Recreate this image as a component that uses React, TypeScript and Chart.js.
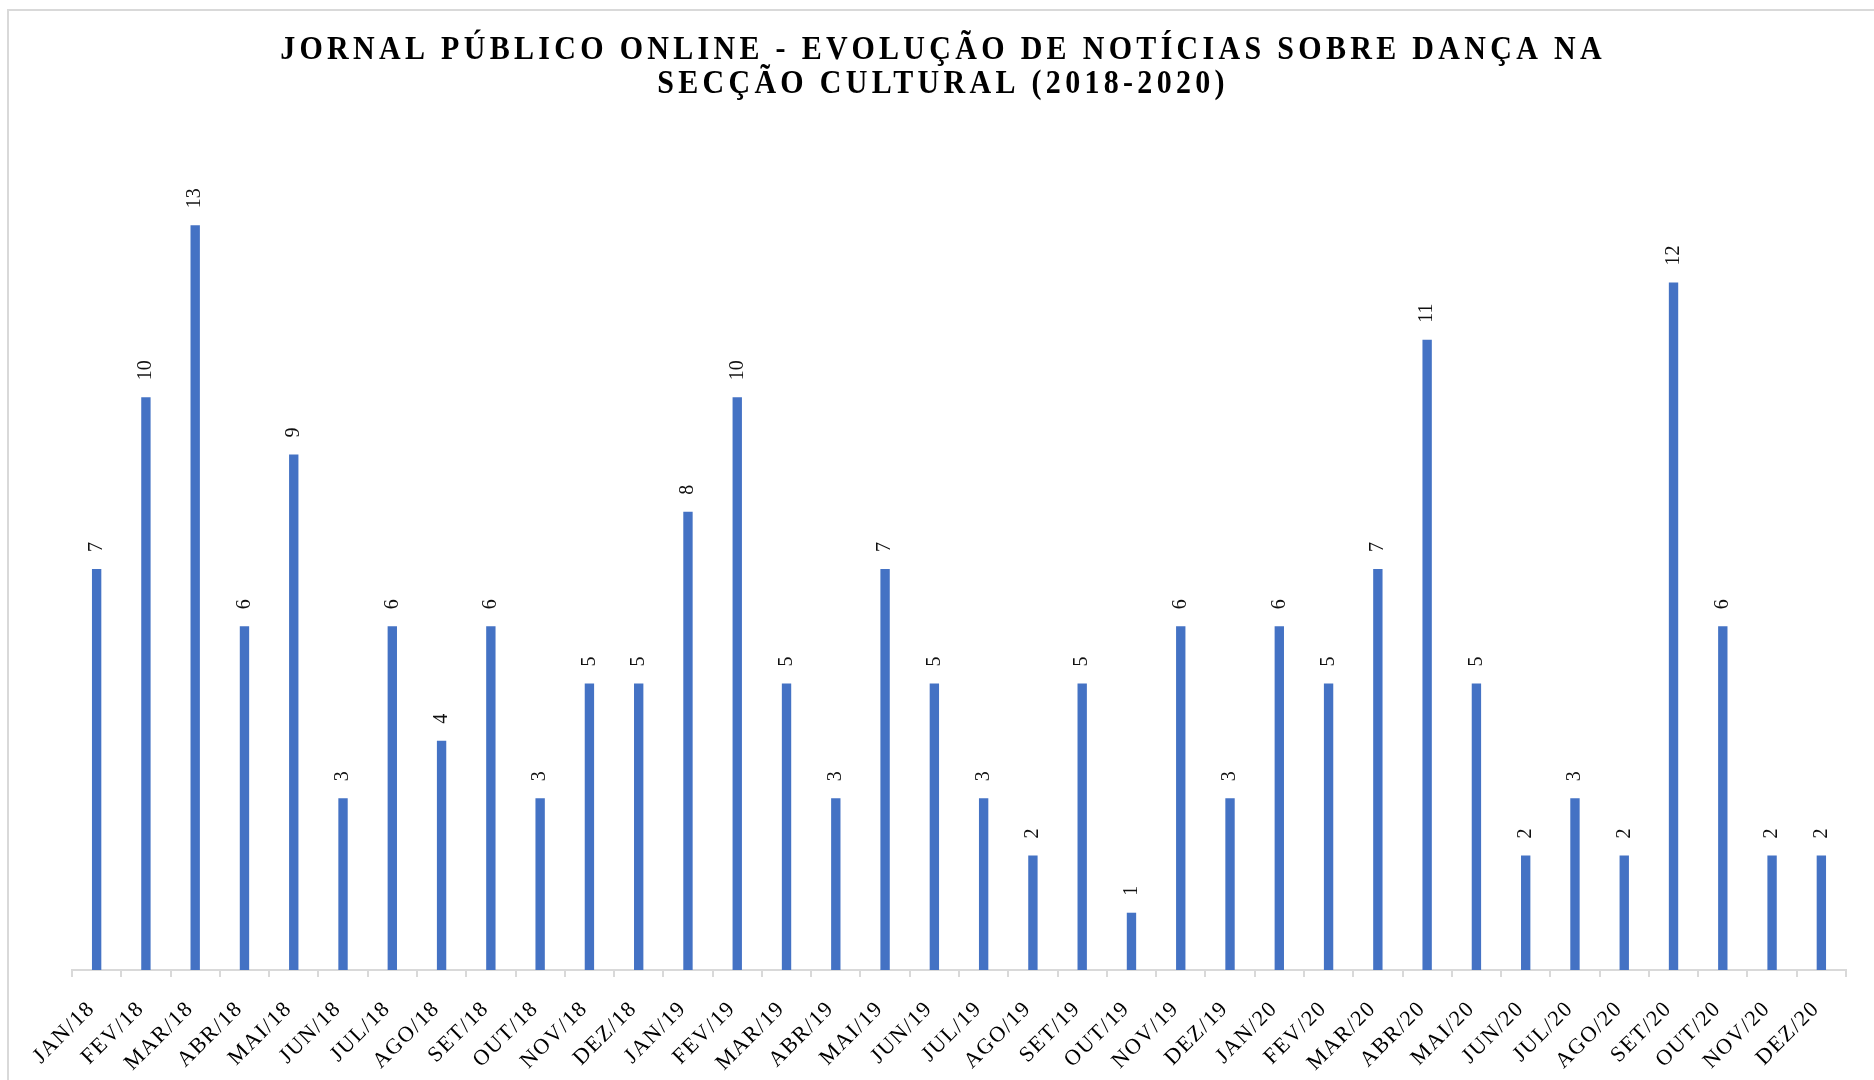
import React, { useEffect, useRef } from "react";
import { Chart, registerables } from "chart.js";

Chart.register(...registerables);

const categories = [
  "JAN/18", "FEV/18", "MAR/18", "ABR/18", "MAI/18", "JUN/18", "JUL/18", "AGO/18", "SET/18", "OUT/18", "NOV/18", "DEZ/18",
  "JAN/19", "FEV/19", "MAR/19", "ABR/19", "MAI/19", "JUN/19", "JUL/19", "AGO/19", "SET/19", "OUT/19", "NOV/19", "DEZ/19",
  "JAN/20", "FEV/20", "MAR/20", "ABR/20", "MAI/20", "JUN/20", "JUL/20", "AGO/20", "SET/20", "OUT/20", "NOV/20", "DEZ/20",
];
const noticias = [
  7, 10, 13, 6, 9, 3, 6, 4, 6, 3, 5, 5,
  8, 10, 5, 3, 7, 5, 3, 2, 5, 1, 6, 3,
  6, 5, 7, 11, 5, 2, 3, 2, 12, 6, 2, 2,
];
const titleLines = [
  "JORNAL PÚBLICO ONLINE - EVOLUÇÃO DE NOTÍCIAS SOBRE DANÇA NA",
  "SECÇÃO CULTURAL (2018-2020)",
];
const yMin = 0;
const yMax = 14;

const W = 1874;
const H = 1080;
const SERIF = '"Liberation Serif", "Times New Roman", serif';

export default function App() {
  const ref = useRef<HTMLCanvasElement>(null);

  useEffect(() => {
    const canvas = ref.current;
    if (!canvas) return;

    const framePlugin = {
      id: "frame",
      beforeDraw(chart: any) {
        const ctx = chart.ctx;
        ctx.save();
        ctx.fillStyle = "#ffffff";
        ctx.fillRect(0, 0, W, H);
        ctx.strokeStyle = "#d9d9d9";
        ctx.lineWidth = 2;
        ctx.strokeRect(8, 10, W + 20, H + 20);
        ctx.restore();
        // slight letter spacing for the axis labels (drawn before datasets)
        (ctx as any).letterSpacing = "1.5px";
      },
      beforeDatasetsDraw(chart: any) {
        (chart.ctx as any).letterSpacing = "0px";
      },
    };

    const dataLabelPlugin = {
      id: "barLabels",
      afterDatasetsDraw(chart: any) {
        const ctx = chart.ctx;
        const meta = chart.getDatasetMeta(0);
        const data = chart.data.datasets[0].data as number[];
        ctx.save();
        ctx.fillStyle = "#111111";
        ctx.font = `20px ${SERIF}`;
        ctx.textAlign = "left";
        ctx.textBaseline = "middle";
        meta.data.forEach((bar: any, i: number) => {
          ctx.save();
          ctx.translate(bar.x, bar.y - 17);
          ctx.rotate(-Math.PI / 2);
          ctx.fillText(String(data[i]), 0, 0);
          ctx.restore();
        });
        ctx.restore();
      },
    };

    const titlePlugin = {
      id: "titleText",
      afterDraw(chart: any) {
        const ctx = chart.ctx;
        const baselines = [58.5, 93];
        ctx.save();
        ctx.fillStyle = "#000000";
        ctx.font = `bold 30px ${SERIF}`;
        (ctx as any).letterSpacing = "4.3px";
        ctx.textAlign = "center";
        ctx.textBaseline = "alphabetic";
        titleLines.forEach((t, i) => {
          ctx.save();
          ctx.translate(943, baselines[i]);
          ctx.scale(1, 1.1);
          ctx.fillText(t, 0, 0);
          ctx.restore();
        });
        ctx.restore();
      },
    };

    const chart = new Chart(canvas, {
      type: "bar",
      data: {
        labels: categories,
        datasets: [
          {
            data: noticias,
            backgroundColor: "#4472C4",
            borderWidth: 0,
            barPercentage: 0.19,
            categoryPercentage: 1,
          },
        ],
      },
      options: {
        animation: false,
        responsive: false,
        maintainAspectRatio: false,
        layout: { padding: { left: 72, right: 28, top: 168, bottom: 0 } },
        plugins: {
          legend: { display: false },
          tooltip: { enabled: false },
          title: { display: false },
        },
        scales: {
          x: {
            grid: {
              display: true,
              drawOnChartArea: false,
              drawTicks: true,
              tickLength: 7,
              color: "#d9d9d9",
              lineWidth: 2,
              offset: true,
            },
            border: { display: true, color: "#d9d9d9", width: 2 },
            ticks: {
              autoSkip: false,
              maxRotation: 45,
              minRotation: 45,
              padding: 19,
              labelOffset: -5,
              color: "#000000",
              font: { family: SERIF, size: 22 },
            },
            afterFit: (scale: any) => {
              scale.height = 110;
            },
          },
          y: {
            display: false,
            min: yMin,
            max: yMax,
          },
        },
      },
      plugins: [framePlugin, dataLabelPlugin, titlePlugin],
    });

    return () => chart.destroy();
  }, []);

  return (
    <div
      style={{
        position: "absolute",
        left: 0,
        top: 0,
        width: W,
        height: H,
        overflow: "hidden",
        background: "#ffffff",
      }}
    >
      <canvas ref={ref} width={W} height={H} style={{ display: "block", width: W, height: H }} />
    </div>
  );
}
